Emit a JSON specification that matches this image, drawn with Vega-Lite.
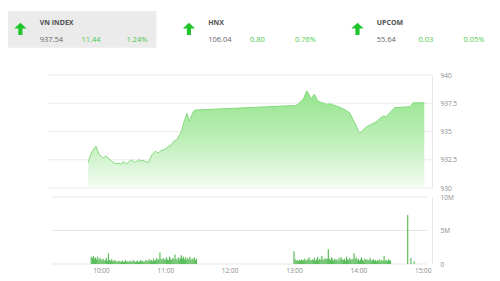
{
  "$schema": "https://vega.github.io/schema/vega-lite/v6.json",
  "background": "#ffffff",
  "padding": {"left": 8, "top": 11, "right": 0, "bottom": 0},
  "autosize": {"type": "pad"},
  "config": {
    "view": {"stroke": null},
    "font": "Open Sans",
    "axis": {"labelFont": "Open Sans", "labelColor": "#8a8a8a", "labelFontSize": 6.5, "ticks": false, "grid": false, "title": null, "domainColor": "#e2e7ee"}
  },
  "bounds": "flush",
  "spacing": 27,
  "vconcat": [
    {
      "width": 485.5,
      "height": 36.7,
      "data": {"values": [
        {"index": "VN INDEX", "price": 937.54, "change": 11.44, "pct": 0.0124},
        {"index": "HNX", "price": 106.04, "change": 0.80, "pct": 0.0076},
        {"index": "UPCOM", "price": 55.64, "change": 0.03, "pct": 0.0005}
      ]},
      "encoding": {
        "x": {"field": "index", "type": "nominal", "sort": null, "bandPosition": 0,
              "scale": {"domain": ["VN INDEX", "HNX", "UPCOM"], "paddingInner": 0.1193, "paddingOuter": 0},
              "axis": null}
      },
      "layer": [
        {
          "mark": {"type": "rect"},
          "encoding": {
            "x": {"field": "index", "type": "nominal", "sort": null,
                  "scale": {"domain": ["VN INDEX", "HNX", "UPCOM"], "paddingInner": 0.1193, "paddingOuter": 0},
                  "axis": null},
            "color": {"condition": {"test": "datum.index === 'VN INDEX'", "value": "#ebebeb"}, "value": "#ffffff"}
          }
        },
        {
          "mark": {"type": "point", "filled": true, "opacity": 1, "size": 150, "color": "#1fc42a",
                   "shape": "M0,-1L1,-0.05L0.34,-0.05L0.34,1L-0.34,1L-0.34,-0.05L-1,-0.05Z",
                   "xOffset": 12.4, "yOffset": -0.5}
        },
        {
          "mark": {"type": "text", "align": "left", "baseline": "middle", "dx": 31.7, "dy": -6.8, "fontSize": 7, "fontWeight": "bold", "color": "#505050"},
          "encoding": {"text": {"field": "index"}}
        },
        {
          "mark": {"type": "text", "align": "left", "baseline": "middle", "dx": 31.7, "dy": 10.5, "fontSize": 7.5, "color": "#666666"},
          "encoding": {"text": {"field": "price", "format": ".2f"}}
        },
        {
          "mark": {"type": "text", "align": "left", "baseline": "middle", "dx": 73.4, "dy": 10.5, "fontSize": 7.5, "color": "#4cc84c"},
          "encoding": {"text": {"field": "change", "format": ".2f"}}
        },
        {
          "mark": {"type": "text", "align": "left", "baseline": "middle", "dx": 118.4, "dy": 10.5, "fontSize": 7.5, "color": "#4cc84c"},
          "encoding": {"text": {"field": "pct", "format": ".2%"}}
        }
      ]
    },
    {
      "bounds": "flush",
      "spacing": 9,
      "vconcat": [
        {
          "width": 424,
          "height": 113,
          "layer": [
            {
              "data": {"values": [{"level": 930}, {"level": 932.5}, {"level": 935}, {"level": 937.5}, {"level": 940}]},
              "mark": {"type": "rule", "color": "#ececec", "strokeWidth": 1},
              "encoding": {
                "x": {"datum": {"year": 1900, "month": 1, "date": 1, "hours": 9, "minutes": 14, "utc": true}, "type": "temporal"},
                "x2": {"datum": {"year": 1900, "month": 1, "date": 1, "hours": 15, "minutes": 4, "utc": true}},
                "y": {"field": "level", "type": "quantitative"}
              }
            },
            {
              "data": {
                "values": [
                  {"t": "09:51", "p": 932.26}, {"t": "09:53", "p": 932.9}, {"t": "09:55", "p": 933.3}, {"t": "09:58", "p": 933.7},
                  {"t": "10:00", "p": 933.2}, {"t": "10:01", "p": 932.95}, {"t": "10:03", "p": 932.8}, {"t": "10:05", "p": 932.65},
                  {"t": "10:07", "p": 932.85}, {"t": "10:09", "p": 932.65}, {"t": "10:11", "p": 932.5}, {"t": "10:13", "p": 932.35},
                  {"t": "10:16", "p": 932.14}, {"t": "10:19", "p": 932.2}, {"t": "10:21", "p": 932.1}, {"t": "10:23", "p": 932.35},
                  {"t": "10:26", "p": 932.14}, {"t": "10:28", "p": 932.3}, {"t": "10:30", "p": 932.5}, {"t": "10:32", "p": 932.35},
                  {"t": "10:34", "p": 932.26}, {"t": "10:37", "p": 932.5}, {"t": "10:39", "p": 932.4}, {"t": "10:41", "p": 932.44},
                  {"t": "10:44", "p": 932.3}, {"t": "10:46", "p": 932.26}, {"t": "10:49", "p": 932.95}, {"t": "10:52", "p": 933.24},
                  {"t": "10:55", "p": 933.1}, {"t": "10:57", "p": 933.3}, {"t": "11:00", "p": 933.39}, {"t": "11:02", "p": 933.5},
                  {"t": "11:04", "p": 933.69}, {"t": "11:06", "p": 933.75}, {"t": "11:09", "p": 934.13}, {"t": "11:12", "p": 934.3},
                  {"t": "11:14", "p": 934.7}, {"t": "11:16", "p": 935.0}, {"t": "11:18", "p": 935.8}, {"t": "11:19", "p": 936.07},
                  {"t": "11:21", "p": 936.6}, {"t": "11:23", "p": 935.9}, {"t": "11:25", "p": 936.4}, {"t": "11:27", "p": 936.8},
                  {"t": "11:29", "p": 936.9}, {"t": "13:00", "p": 937.3}, {"t": "13:02", "p": 937.4}, {"t": "13:05", "p": 937.7},
                  {"t": "13:07", "p": 937.9}, {"t": "13:10", "p": 938.6}, {"t": "13:12", "p": 938.3}, {"t": "13:14", "p": 937.86},
                  {"t": "13:17", "p": 938.3}, {"t": "13:20", "p": 937.7}, {"t": "13:23", "p": 937.56}, {"t": "13:26", "p": 937.5},
                  {"t": "13:28", "p": 937.4}, {"t": "13:31", "p": 937.45}, {"t": "13:34", "p": 937.35}, {"t": "13:37", "p": 937.26},
                  {"t": "13:40", "p": 937.15}, {"t": "13:43", "p": 937.0}, {"t": "13:46", "p": 936.85}, {"t": "13:49", "p": 936.66},
                  {"t": "13:52", "p": 936.07}, {"t": "13:55", "p": 935.5}, {"t": "13:58", "p": 934.82}, {"t": "14:01", "p": 935.1},
                  {"t": "14:04", "p": 935.4}, {"t": "14:08", "p": 935.6}, {"t": "14:11", "p": 935.75}, {"t": "14:14", "p": 935.9},
                  {"t": "14:17", "p": 936.2}, {"t": "14:20", "p": 936.37}, {"t": "14:22", "p": 936.3}, {"t": "14:24", "p": 936.5},
                  {"t": "14:27", "p": 936.8}, {"t": "14:30", "p": 937.1}, {"t": "14:44", "p": 937.2}, {"t": "14:47", "p": 937.54},
                  {"t": "14:57", "p": 937.54}
                ],
                "format": {"parse": {"t": "utc:'%H:%M'"}}
              },
              "layer": [
                {
                  "mark": {"type": "area", "line": false,
                           "fill": {"gradient": "linear", "x1": 0, "y1": 0, "x2": 0, "y2": 1,
                                    "stops": [{"offset": 0, "color": "#93e48c"}, {"offset": 0.55, "color": "#c2f0bd"}, {"offset": 1, "color": "#f4fcf3"}]}},
                  "encoding": {
                    "x": {"field": "t", "type": "temporal"},
                    "y": {"field": "p", "type": "quantitative"},
                    "y2": {"datum": 930}
                  }
                },
                {
                  "mark": {"type": "line", "color": "#84da7e", "strokeWidth": 1},
                  "encoding": {
                    "x": {"field": "t", "type": "temporal"},
                    "y": {"field": "p", "type": "quantitative"}
                  }
                }
              ]
            }
          ],
          "encoding": {
            "x": {"type": "temporal",
                  "scale": {"type": "utc", "domain": [{"year": 1900, "month": 1, "date": 1, "hours": 8, "minutes": 38, "utc": true}, {"year": 1900, "month": 1, "date": 1, "hours": 15, "minutes": 4, "utc": true}]},
                  "axis": null},
            "y": {"type": "quantitative",
                  "scale": {"domain": [930, 940], "zero": false, "nice": false},
                  "axis": {"orient": "right", "values": [930, 932.5, 935, 937.5, 940], "labelExpr": "'' + datum.value", "labelPadding": 8, "domain": true}}
          }
        },
        {
          "width": 424,
          "height": 67,
          "layer": [
            {
              "data": {"values": [{"level": 0}, {"level": 5}, {"level": 10}]},
              "mark": {"type": "rule", "color": "#e6e6e6", "strokeWidth": 1},
              "encoding": {
                "x": {"datum": {"year": 1900, "month": 1, "date": 1, "hours": 9, "minutes": 14, "utc": true}, "type": "temporal"},
                "x2": {"datum": {"year": 1900, "month": 1, "date": 1, "hours": 15, "minutes": 4, "utc": true}},
                "y": {"field": "level", "type": "quantitative"}
              }
            },
            {
              "data": {
                "values": [
                  {"t": "09:51", "v": 1.1}, {"t": "09:52", "v": 0.9}, {"t": "09:53", "v": 1.2}, {"t": "09:54", "v": 0.8}, {"t": "09:55", "v": 1.0},
                  {"t": "09:56", "v": 0.7}, {"t": "09:57", "v": 1.1}, {"t": "09:58", "v": 0.6}, {"t": "09:59", "v": 0.9}, {"t": "10:00", "v": 0.7},
                  {"t": "10:01", "v": 0.6}, {"t": "10:02", "v": 0.8}, {"t": "10:03", "v": 0.5}, {"t": "10:04", "v": 0.6}, {"t": "10:05", "v": 0.9},
                  {"t": "10:06", "v": 0.5}, {"t": "10:07", "v": 1.6}, {"t": "10:08", "v": 0.6}, {"t": "10:09", "v": 0.5}, {"t": "10:10", "v": 0.7},
                  {"t": "10:11", "v": 0.4}, {"t": "10:12", "v": 0.5}, {"t": "10:13", "v": 0.6}, {"t": "10:14", "v": 0.4}, {"t": "10:15", "v": 0.3},
                  {"t": "10:16", "v": 0.5}, {"t": "10:17", "v": 0.4}, {"t": "10:18", "v": 0.3}, {"t": "10:19", "v": 0.4}, {"t": "10:20", "v": 0.5},
                  {"t": "10:21", "v": 0.3}, {"t": "10:22", "v": 0.4}, {"t": "10:23", "v": 0.6}, {"t": "10:24", "v": 0.3}, {"t": "10:25", "v": 0.4},
                  {"t": "10:26", "v": 0.3}, {"t": "10:27", "v": 0.5}, {"t": "10:28", "v": 0.4}, {"t": "10:29", "v": 0.3}, {"t": "10:30", "v": 0.6},
                  {"t": "10:31", "v": 0.4}, {"t": "10:32", "v": 0.3}, {"t": "10:33", "v": 0.4}, {"t": "10:34", "v": 0.5}, {"t": "10:35", "v": 0.3},
                  {"t": "10:36", "v": 0.4}, {"t": "10:37", "v": 0.6}, {"t": "10:38", "v": 0.4}, {"t": "10:39", "v": 0.5}, {"t": "10:40", "v": 0.3},
                  {"t": "10:41", "v": 0.4}, {"t": "10:42", "v": 0.6}, {"t": "10:43", "v": 0.5}, {"t": "10:44", "v": 0.4}, {"t": "10:45", "v": 0.7},
                  {"t": "10:46", "v": 0.5}, {"t": "10:47", "v": 0.6}, {"t": "10:48", "v": 0.4}, {"t": "10:49", "v": 0.8}, {"t": "10:50", "v": 0.5},
                  {"t": "10:51", "v": 0.6}, {"t": "10:52", "v": 0.9}, {"t": "10:53", "v": 0.6}, {"t": "10:54", "v": 0.7}, {"t": "10:55", "v": 1.7},
                  {"t": "10:56", "v": 0.8}, {"t": "10:57", "v": 0.6}, {"t": "10:58", "v": 0.9}, {"t": "10:59", "v": 0.7}, {"t": "11:00", "v": 0.6},
                  {"t": "11:01", "v": 1.0}, {"t": "11:02", "v": 0.7}, {"t": "11:03", "v": 0.6}, {"t": "11:04", "v": 1.1}, {"t": "11:05", "v": 0.8},
                  {"t": "11:06", "v": 0.6}, {"t": "11:07", "v": 0.9}, {"t": "11:08", "v": 0.7}, {"t": "11:09", "v": 1.4}, {"t": "11:10", "v": 0.8},
                  {"t": "11:11", "v": 0.6}, {"t": "11:12", "v": 1.0}, {"t": "11:13", "v": 0.7}, {"t": "11:14", "v": 0.9}, {"t": "11:15", "v": 1.3},
                  {"t": "11:16", "v": 0.8}, {"t": "11:17", "v": 1.1}, {"t": "11:18", "v": 0.7}, {"t": "11:19", "v": 1.0}, {"t": "11:20", "v": 0.6},
                  {"t": "11:21", "v": 0.9}, {"t": "11:22", "v": 0.7}, {"t": "11:23", "v": 1.1}, {"t": "11:24", "v": 0.6}, {"t": "11:25", "v": 0.8},
                  {"t": "11:26", "v": 0.7}, {"t": "11:27", "v": 1.0}, {"t": "11:28", "v": 0.6}, {"t": "11:29", "v": 0.8},
                  {"t": "13:00", "v": 1.9}, {"t": "13:01", "v": 0.7}, {"t": "13:02", "v": 0.5}, {"t": "13:03", "v": 0.6}, {"t": "13:04", "v": 0.4},
                  {"t": "13:05", "v": 0.6}, {"t": "13:06", "v": 0.5}, {"t": "13:07", "v": 0.7}, {"t": "13:08", "v": 0.5}, {"t": "13:09", "v": 0.6},
                  {"t": "13:10", "v": 0.8}, {"t": "13:11", "v": 0.5}, {"t": "13:12", "v": 0.6}, {"t": "13:13", "v": 0.7}, {"t": "13:14", "v": 1.0},
                  {"t": "13:15", "v": 0.6}, {"t": "13:16", "v": 0.5}, {"t": "13:17", "v": 0.7}, {"t": "13:18", "v": 0.6}, {"t": "13:19", "v": 0.9},
                  {"t": "13:20", "v": 0.5}, {"t": "13:21", "v": 0.7}, {"t": "13:22", "v": 1.1}, {"t": "13:23", "v": 0.6}, {"t": "13:24", "v": 0.8},
                  {"t": "13:25", "v": 0.6}, {"t": "13:26", "v": 1.2}, {"t": "13:27", "v": 0.7}, {"t": "13:28", "v": 0.6}, {"t": "13:29", "v": 0.9},
                  {"t": "13:30", "v": 0.7}, {"t": "13:31", "v": 0.8}, {"t": "13:32", "v": 2.2}, {"t": "13:33", "v": 0.8}, {"t": "13:34", "v": 0.6},
                  {"t": "13:35", "v": 1.0}, {"t": "13:36", "v": 0.7}, {"t": "13:37", "v": 0.5}, {"t": "13:38", "v": 0.8}, {"t": "13:39", "v": 0.6},
                  {"t": "13:40", "v": 0.7}, {"t": "13:41", "v": 0.5}, {"t": "13:42", "v": 0.9}, {"t": "13:43", "v": 0.6}, {"t": "13:44", "v": 1.0},
                  {"t": "13:45", "v": 0.7}, {"t": "13:46", "v": 0.6}, {"t": "13:47", "v": 0.8}, {"t": "13:48", "v": 0.5}, {"t": "13:49", "v": 1.1},
                  {"t": "13:50", "v": 0.7}, {"t": "13:51", "v": 0.6}, {"t": "13:52", "v": 0.9}, {"t": "13:53", "v": 0.7}, {"t": "13:54", "v": 0.6},
                  {"t": "13:55", "v": 0.8}, {"t": "13:56", "v": 1.6}, {"t": "13:57", "v": 0.7}, {"t": "13:58", "v": 1.0}, {"t": "13:59", "v": 0.6},
                  {"t": "14:00", "v": 0.8}, {"t": "14:01", "v": 0.5}, {"t": "14:02", "v": 0.7}, {"t": "14:03", "v": 1.0}, {"t": "14:04", "v": 0.6},
                  {"t": "14:05", "v": 0.5}, {"t": "14:06", "v": 0.8}, {"t": "14:07", "v": 0.6}, {"t": "14:08", "v": 0.7}, {"t": "14:09", "v": 0.5},
                  {"t": "14:10", "v": 0.6}, {"t": "14:11", "v": 0.9}, {"t": "14:12", "v": 0.5}, {"t": "14:13", "v": 0.6}, {"t": "14:14", "v": 0.7},
                  {"t": "14:15", "v": 0.5}, {"t": "14:16", "v": 0.6}, {"t": "14:17", "v": 0.4}, {"t": "14:18", "v": 0.6}, {"t": "14:19", "v": 0.5},
                  {"t": "14:20", "v": 0.7}, {"t": "14:21", "v": 0.4}, {"t": "14:22", "v": 0.6}, {"t": "14:23", "v": 0.5}, {"t": "14:24", "v": 1.2},
                  {"t": "14:25", "v": 0.5}, {"t": "14:26", "v": 0.6}, {"t": "14:27", "v": 0.4}, {"t": "14:28", "v": 0.7}, {"t": "14:29", "v": 0.6},
                  {"t": "14:30", "v": 0.5},
                  {"t": "14:46", "v": 7.3}, {"t": "14:49", "v": 0.9}, {"t": "14:52", "v": 0.4}
                ],
                "format": {"parse": {"t": "utc:'%H:%M'"}}
              },
              "mark": {"type": "bar", "width": 1.2, "color": "#5cbd5c"},
              "encoding": {
                "x": {"field": "t", "type": "temporal"},
                "y": {"field": "v", "type": "quantitative"}
              }
            }
          ],
          "encoding": {
            "x": {"type": "temporal",
                  "scale": {"type": "utc", "domain": [{"year": 1900, "month": 1, "date": 1, "hours": 8, "minutes": 38, "utc": true}, {"year": 1900, "month": 1, "date": 1, "hours": 15, "minutes": 4, "utc": true}]},
                  "axis": {"orient": "bottom", "domain": false, "labelExpr": "utcFormat(datum.value, '%H:%M')", "labelPadding": 3,
                           "values": [
                             {"year": 1900, "month": 1, "date": 1, "hours": 10, "utc": true},
                             {"year": 1900, "month": 1, "date": 1, "hours": 11, "utc": true},
                             {"year": 1900, "month": 1, "date": 1, "hours": 12, "utc": true},
                             {"year": 1900, "month": 1, "date": 1, "hours": 13, "utc": true},
                             {"year": 1900, "month": 1, "date": 1, "hours": 14, "utc": true},
                             {"year": 1900, "month": 1, "date": 1, "hours": 15, "utc": true}
                           ]}},
            "y": {"type": "quantitative",
                  "scale": {"domain": [0, 10], "nice": false},
                  "axis": {"orient": "right", "values": [0, 5, 10], "labelExpr": "datum.value === 0 ? '0' : datum.value + 'M'", "labelPadding": 8, "domain": true}}
          }
        }
      ]
    }
  ]
}
